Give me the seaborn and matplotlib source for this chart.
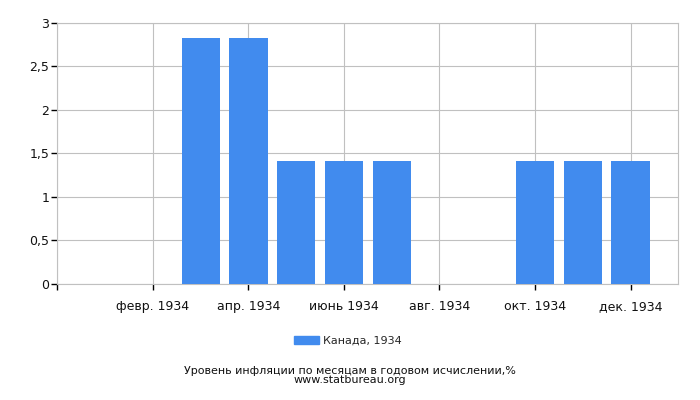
import numpy as np
import matplotlib
matplotlib.use('Agg')
import matplotlib.pyplot as plt
import seaborn as sns
from matplotlib.patches import Patch

# данные: инфляция по месяцам, Канада 1934
months = ['янв. 1934', 'февр. 1934', 'март 1934', 'апр. 1934', 'май 1934', 'июнь 1934',
          'июль 1934', 'авг. 1934', 'сент. 1934', 'окт. 1934', 'нояб. 1934', 'дек. 1934']
values = [0, 0, 2.82, 2.82, 1.41, 1.41, 1.41, 0, 0, 1.41, 1.41, 1.41]
tick_labels = ['', 'февр. 1934', 'апр. 1934', 'июнь 1934', 'авг. 1934', 'окт. 1934', 'дек. 1934']
y_ticks = [0, 0.5, 1, 1.5, 2, 2.5, 3]
y_labels = ['0', '0,5', '1', '1,5', '2', '2,5', '3']

sns.set_style('white')
plt.rcParams['font.family'] = ['DejaVu Sans']

fig = plt.figure(figsize=(7, 4), dpi=100)
ax = fig.add_axes([0.082, 0.291, 0.887, 0.652])

sns.barplot(x=list(range(12)), y=values, color='#418bee', saturation=1, width=0.8,
            native_scale=True, linewidth=0, ax=ax, zorder=3)

grid_col = '#c0c0c0'
ax.set_xlim(-1, 12)
ax.set_ylim(0, 3)
ax.set_xticks([-1, 1, 3, 5, 7, 9, 11])
ax.set_xticklabels(tick_labels, fontsize=9)
ax.set_yticks(y_ticks)
ax.set_yticklabels(y_labels, fontsize=9)
ax.grid(True, color=grid_col, linewidth=0.8, zorder=0)
ax.set_axisbelow(True)
for s in ax.spines.values():
    s.set_color(grid_col)
    s.set_linewidth(0.8)
ax.tick_params(axis='both', bottom=True, left=True, length=4, width=1,
               color='black', pad=2, labelcolor='#111111')
ax.tick_params(axis='x', pad=8)
ax.set_xlabel('')
ax.set_ylabel('')

# легенда и подписи
fig.legend(handles=[Patch(color='#418bee', label='Канада, 1934')], loc='center',
           bbox_to_anchor=(0.497, 0.148), frameon=False, fontsize=8,
           handlelength=2.2, handleheight=0.7, handletextpad=0.4)
fig.text(0.5, 0.061, 'Уровень инфляции по месяцам в годовом исчислении,%\nwww.statbureau.org',
         ha='center', va='center', fontsize=8, color='#111111', linespacing=0.95)

fig.savefig('out.png', dpi=100)
